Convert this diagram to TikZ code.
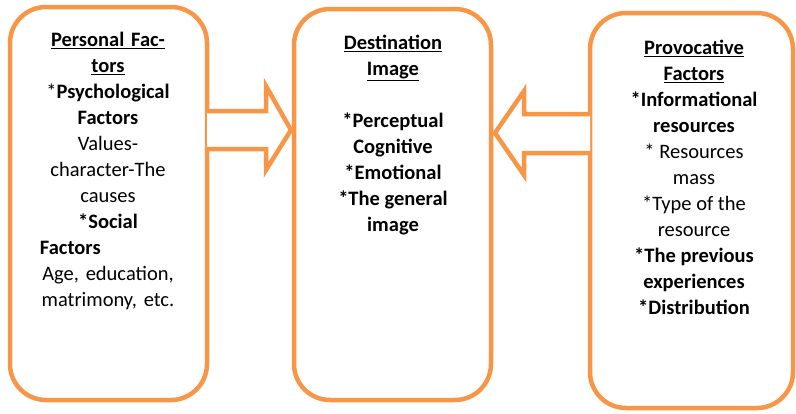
\documentclass[tikz,border=0pt]{standalone}
\usepackage{fontspec}
\setmainfont{Carlito}
\definecolor{boxorange}{HTML}{F79646}
\begin{document}
\begin{tikzpicture}[x=1pt,y=-1pt,
  panel/.style={draw=boxorange,line width=4.5pt,rounded corners=36pt},
  blockarrow/.style={draw=boxorange,line width=4.5pt,fill=white,line join=miter},
  paneltext/.style={anchor=north,inner sep=0pt,align=center,
    font=\fontsize{20.5}{26}\selectfont}]
\useasboundingbox (0,0) rectangle (796,413);

% the three panels
\draw[panel] (10,7) rectangle (207,400);
\draw[panel] (294,9) rectangle (491,400);
\draw[panel] (590,13) rectangle (793,408);

% block arrow from the personal factors to the destination image
\draw[blockarrow] (207,111) -- (266,111) -- (266,86) -- (291,130)
  -- (266,170) -- (266,149) -- (207,149);
% block arrow from the provocative factors to the destination image
\draw[blockarrow] (590,114) -- (524,114) -- (524,91) -- (495,133)
  -- (524,175) -- (524,153) -- (590,153);

% panel texts
\node[paneltext,text width=170pt] (personal) at (108,32) {%
  \textbf{\underline{Personal Fac-}}\\
  \textbf{\underline{tors}}\\
  {*}\textbf{Psychological}\\
  \textbf{Factors}\\
  Values-\\
  character-The\\
  causes\\
  \textbf{{*}Social}\\
  \makebox[\linewidth][l]{\hspace{17pt}\textbf{Factors}}\\
  Age, education,\\
  matrimony, etc.};

\node[paneltext] (destination) at (393,35) {%
  \textbf{\underline{Destination}}\\
  \textbf{\underline{Image}}\\
  \mbox{}\\
  \textbf{{*}Perceptual}\\
  \textbf{Cognitive}\\
  \textbf{{*}Emotional}\\
  \textbf{{*}The general}\\
  \textbf{image}};

\node[paneltext] (provocative) at (694,40) {%
  \textbf{\underline{Provocative}}\\
  \textbf{\underline{Factors}}\\
  \textbf{{*}Informational}\\
  \textbf{resources}\\
  {*} Resources\\
  mass\\
  {*}Type of the\\
  resource\\
  \textbf{{*}The previous}\\
  \textbf{experiences}\\
  \textbf{{*}Distribution}};
\end{tikzpicture}
\end{document}
